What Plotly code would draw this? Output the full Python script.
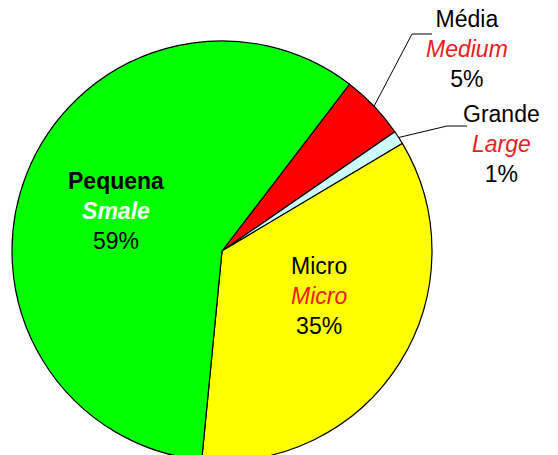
import math
import plotly.graph_objects as go

# ---- data ----
labels_pt = ["Média", "Grande", "Micro", "Pequena"]
labels_en = ["Medium", "Large", "Micro", "Smale"]
values = [5.0, 1.05, 35.1, 58.85]
colors = ["#FF0000", "#CCFFFF", "#FFFF00", "#00FF00"]
start_angle = 37.4  # degrees clockwise from 12 o'clock

# ---- layout geometry (pixels) ----
W, H = 558, 470
CX, CY, R = 222, 251, 210
FONT = "Liberation Sans, Arial, sans-serif"
RED_TXT = "#E8201E"


def px(x):
    return x / W


def py(y):
    return (H - y) / H


fig = go.Figure(go.Pie(
    labels=labels_pt,
    values=values,
    sort=False,
    direction="clockwise",
    rotation=start_angle,
    marker=dict(colors=colors, line=dict(color="black", width=1.2)),
    textinfo="none",
    hoverinfo="label+percent",
    showlegend=False,
    domain=dict(x=[px(CX - R), px(CX + R)], y=[py(CY + R), py(CY - R)]),
))

total = sum(values)
pcts = [round(v / total * 100) for v in values]

# slice mid angles (from data)
mids = []
cum = 0
for v in values:
    mids.append(start_angle + (cum + v / 2) / total * 360)
    cum += v


def edge_point(angle_deg, r=R):
    a = math.radians(angle_deg)
    return CX + r * math.sin(a), CY - r * math.cos(a)


# label block centres (pixels)
label_pos = {
    "Média": (467, 49),
    "Grande": (501, 144),
    "Micro": (319, 296),
    "Pequena": (116, 211),
}

annotations = []
for i, lp in enumerate(labels_pt):
    lx, ly = label_pos[lp]
    if lp == "Pequena":
        txt = (f"<b>{lp}</b><br><b><i><span style='color:white'>{labels_en[i]}</span></i></b>"
               f"<br>{pcts[i]}%")
    else:
        txt = (f"{lp}<br><i><span style='color:{RED_TXT}'>{labels_en[i]}</span></i>"
               f"<br>{pcts[i]}%")
    annotations.append(dict(
        x=px(lx), y=py(ly), xref="paper", yref="paper",
        text=txt, showarrow=False, align="center",
        xanchor="center", yanchor="middle",
        font=dict(family=FONT, size=23, color="black"),
    ))

# leader lines for the two small slices
shapes = []
leader = {"Média": (-55, -15), "Grande": (-54, -18)}
for i, lp in enumerate(labels_pt):
    if lp not in leader:
        continue
    lx, ly = label_pos[lp]
    ax, ay = edge_point(mids[i])
    ex, ey = lx + leader[lp][0], ly + leader[lp][1]
    fx = ex + 20
    path = f"M {px(ax)} {py(ay)} L {px(ex)} {py(ey)} L {px(fx)} {py(ey)}"
    shapes.append(dict(type="path", xref="paper", yref="paper", path=path,
                       line=dict(color="black", width=1)))

fig.update_layout(
    width=W, height=H,
    margin=dict(l=0, r=0, t=0, b=0),
    paper_bgcolor="white",
    annotations=annotations,
    shapes=shapes,
)

fig.write_html(
    "out.html",
    config={"displayModeBar": False},
    post_script="document.body.style.margin='0';document.body.style.overflow='hidden';"
                "document.documentElement.style.overflow='hidden';",
)
